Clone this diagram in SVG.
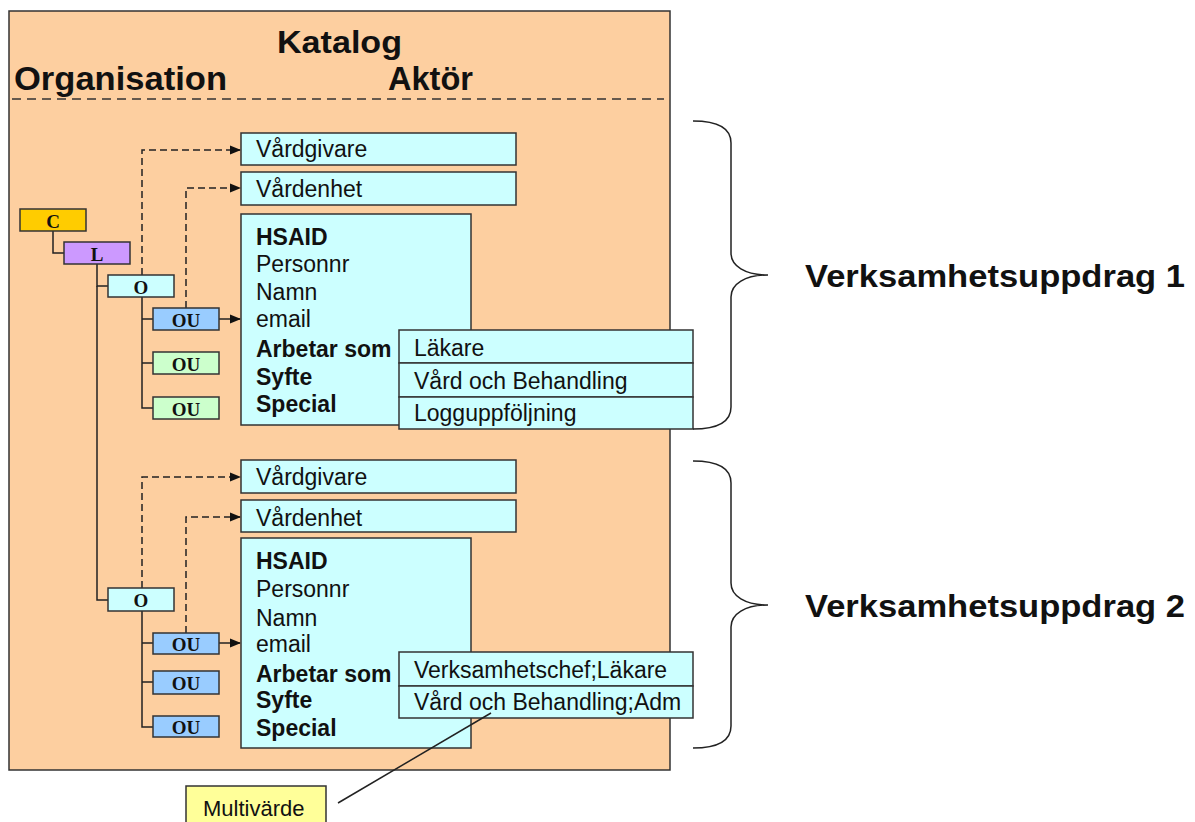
<svg xmlns="http://www.w3.org/2000/svg" width="1195" height="822" viewBox="0 0 1195 822">
<style>
.sans{font-family:"Liberation Sans",Arial,sans-serif;fill:#111}
.ser{font-family:"Liberation Serif","Times New Roman",serif;font-weight:bold;font-size:19px;fill:#111;text-anchor:middle}
.bx{stroke:#333;stroke-width:1.5}
.cy{fill:#CCFFFF}
.t{font-size:23px}
.b{font-weight:bold}
.conn{fill:none;stroke:#222;stroke-width:1.5}
.dash{stroke-dasharray:7 4}
</style>
<defs>
<marker id="ah" markerWidth="11" markerHeight="11" refX="10" refY="5.5" orient="auto" markerUnits="userSpaceOnUse">
<path d="M0,1 L11,5.5 L0,10 Z" fill="#111"/>
</marker>
</defs>
<rect width="1195" height="822" fill="#fff"/>
<g id="panel">
<rect x="9" y="11" width="661" height="759" fill="#FDCFA0" class="bx"/>
<text x="277" y="53" class="sans b" font-size="31" textLength="125" lengthAdjust="spacingAndGlyphs">Katalog</text>
<text x="14" y="90" class="sans b" font-size="33" textLength="213" lengthAdjust="spacingAndGlyphs">Organisation</text>
<text x="388" y="90" class="sans b" font-size="33" textLength="85" lengthAdjust="spacingAndGlyphs">Aktör</text>
<line x1="12" y1="99" x2="664" y2="99" stroke="#333" stroke-width="1.5" stroke-dasharray="9 6"/>
</g>
<g id="connectors">
<path class="conn" d="M53,231 V253 H64"/>
<path class="conn" d="M97,264 V286 H108"/>
<path class="conn" d="M97,286 V600 H108"/>
<path class="conn" d="M142,297 V408 H153 M142,319 H153 M142,363 H153"/>
<path class="conn" d="M142,611 V727 H153 M142,643 H153 M142,682 H153"/>
<path class="conn dash" d="M142,275 V150 H240" marker-end="url(#ah)"/>
<path class="conn dash" d="M186,308 V188 H240" marker-end="url(#ah)"/>
<path class="conn" d="M219,319 H240" marker-end="url(#ah)"/>
<path class="conn dash" d="M142,588 V477 H240" marker-end="url(#ah)"/>
<path class="conn dash" d="M186,633 V517 H240" marker-end="url(#ah)"/>
<path class="conn" d="M219,643 H240" marker-end="url(#ah)"/>
</g>
<g id="node-C"><rect x="20" y="209" width="66" height="22" fill="#FFCC00" class="bx"/><text x="53" y="228" class="ser">C</text></g>
<g id="node-L"><rect x="64" y="242" width="66" height="22" fill="#CC99FF" class="bx"/><text x="97" y="261" class="ser">L</text></g>
<g id="node-O1"><rect x="108" y="275" width="66" height="22" fill="#CCFFFF" class="bx"/><text x="141" y="294" class="ser">O</text></g>
<g id="node-OU1a"><rect x="153" y="308" width="66" height="22" fill="#99CCFF" class="bx"/><text x="186" y="327" class="ser">OU</text></g>
<g id="node-OU1b"><rect x="153" y="352" width="66" height="22" fill="#CCFFCC" class="bx"/><text x="186" y="371" class="ser">OU</text></g>
<g id="node-OU1c"><rect x="153" y="397" width="66" height="22" fill="#CCFFCC" class="bx"/><text x="186" y="416" class="ser">OU</text></g>
<g id="node-O2"><rect x="108" y="588" width="66" height="23" fill="#CCFFFF" class="bx"/><text x="141" y="607" class="ser">O</text></g>
<g id="node-OU2a"><rect x="153" y="633" width="66" height="21" fill="#99CCFF" class="bx"/><text x="186" y="651" class="ser">OU</text></g>
<g id="node-OU2b"><rect x="153" y="671" width="66" height="23" fill="#99CCFF" class="bx"/><text x="186" y="690" class="ser">OU</text></g>
<g id="node-OU2c"><rect x="153" y="716" width="66" height="21" fill="#99CCFF" class="bx"/><text x="186" y="734" class="ser">OU</text></g>
<g id="vardgivare1"><rect x="241" y="133" width="275" height="32" class="bx cy"/><text x="256" y="157" class="sans t">Vårdgivare</text></g>
<g id="vardenhet1"><rect x="241" y="172" width="275" height="33" class="bx cy"/><text x="256" y="197" class="sans t">Vårdenhet</text></g>
<g id="aktor1"><rect x="241" y="214" width="230" height="211" class="bx cy"/>
<text x="256" y="245" class="sans t b">HSAID</text>
<text x="256" y="272" class="sans t">Personnr</text>
<text x="256" y="300" class="sans t">Namn</text>
<text x="256" y="327" class="sans t">email</text>
<text x="256" y="357" class="sans t b">Arbetar som</text>
<text x="256" y="385" class="sans t b">Syfte</text>
<text x="256" y="412" class="sans t b">Special</text>
</g>
<g id="values1">
<rect x="399" y="330" width="294" height="33" class="bx cy"/><text x="414" y="356" class="sans t">Läkare</text>
<rect x="399" y="363" width="294" height="34" class="bx cy"/><text x="414" y="389" class="sans t">Vård och Behandling</text>
<rect x="399" y="397" width="294" height="32" class="bx cy"/><text x="414" y="421" class="sans t">Logguppföljning</text>
</g>
<g id="vardgivare2"><rect x="241" y="460" width="275" height="33" class="bx cy"/><text x="256" y="485" class="sans t">Vårdgivare</text></g>
<g id="vardenhet2"><rect x="241" y="500" width="275" height="32" class="bx cy"/><text x="256" y="526" class="sans t">Vårdenhet</text></g>
<g id="aktor2"><rect x="241" y="538" width="230" height="210" class="bx cy"/>
<text x="256" y="569" class="sans t b">HSAID</text>
<text x="256" y="597" class="sans t">Personnr</text>
<text x="256" y="626" class="sans t">Namn</text>
<text x="256" y="652" class="sans t">email</text>
<text x="256" y="682" class="sans t b">Arbetar som</text>
<text x="256" y="708" class="sans t b">Syfte</text>
<text x="256" y="736" class="sans t b">Special</text>
</g>
<g id="values2">
<rect x="399" y="652" width="294" height="34" class="bx cy"/><text x="414" y="678" class="sans t">Verksamhetschef;Läkare</text>
<rect x="399" y="686" width="294" height="32" class="bx cy"/><text x="414" y="710" class="sans t">Vård och Behandling;Adm</text>
</g>
<g id="brace1"><path class="conn" d="M693,121 C718,121 731,128 731,143 L731,253 C731,266 745,275 768,275 C745,275 731,284 731,297 L731,407 C731,422 718,429 693,429"/>
<text x="805" y="287" class="sans b" font-size="31" textLength="380" lengthAdjust="spacingAndGlyphs">Verksamhetsuppdrag 1</text></g>
<g id="brace2"><path class="conn" d="M693,461 C718,461 731,468 731,483 L731,583 C731,596 745,605 768,605 C745,605 731,614 731,627 L731,726 C731,741 718,748 693,748"/>
<text x="805" y="617" class="sans b" font-size="31" textLength="380" lengthAdjust="spacingAndGlyphs">Verksamhetsuppdrag 2</text></g>
<g id="multivarde"><rect x="186" y="786" width="140" height="50" fill="#FFFF99" class="bx"/><text x="203" y="816" class="sans" font-size="22">Multivärde</text></g>
<g id="callout"><line x1="338" y1="803" x2="491" y2="713" stroke="#222" stroke-width="1.5"/></g>
</svg>
